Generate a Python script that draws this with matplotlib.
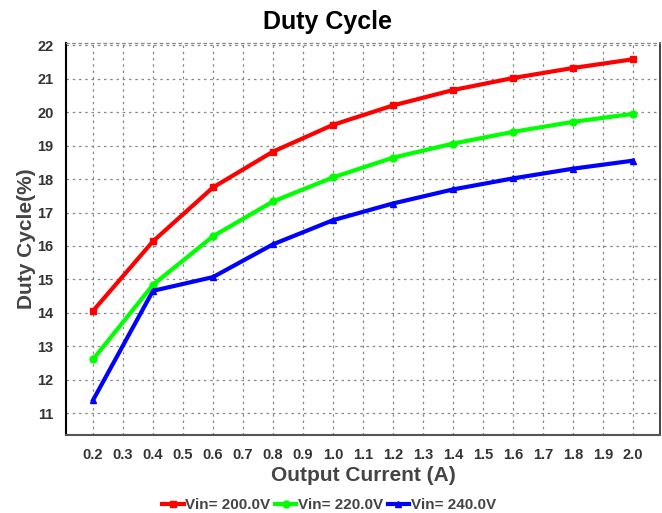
import matplotlib
matplotlib.use('Agg')
import matplotlib.pyplot as plt

plt.rcParams['font.family'] = ['Liberation Sans', 'DejaVu Sans']
plt.rcParams['font.weight'] = 'bold'

# output current (A)
current = [0.2, 0.4, 0.6, 0.8, 1.0, 1.2, 1.4, 1.6, 1.8, 2.0]
# duty cycle (%) for each input voltage
duty_200 = [14.06, 16.14, 17.75, 18.82, 19.62, 20.20, 20.66, 21.02, 21.32, 21.58]
duty_220 = [12.61, 14.84, 16.29, 17.33, 18.05, 18.64, 19.06, 19.41, 19.71, 19.95]
duty_240 = [11.39, 14.66, 15.07, 16.05, 16.77, 17.27, 17.69, 18.02, 18.31, 18.55]
labels = ['Vin= 200.0V', 'Vin= 220.0V', 'Vin= 240.0V']

xticks = [0.2, 0.3, 0.4, 0.5, 0.6, 0.7, 0.8, 0.9, 1.0, 1.1, 1.2, 1.3, 1.4,
          1.5, 1.6, 1.7, 1.8, 1.9, 2.0]
yticks = list(range(11, 23))

fig = plt.figure(figsize=(6.62, 5.13), dpi=100)
ax = fig.add_axes([0.0997, 0.152, 0.897, 0.765])

ax.plot(current, duty_200, color='#ff0000', lw=3, marker='s', ms=5, label=labels[0])
ax.plot(current, duty_220, color='#00ff00', lw=3, marker='o', ms=5, label=labels[1])
ax.plot(current, duty_240, color='#0000ff', lw=3, marker='^', ms=5, label=labels[2])

ax.set_xlim(0.11, 2.09)
ax.set_ylim(10.35, 22.08)
ax.set_xticks(xticks)
ax.set_xticklabels(['%.1f' % v for v in xticks])
ax.set_yticks(yticks)
ax.tick_params(labelsize=10.5, length=0, pad=9, colors='#333333')
for t in ax.get_xticklabels() + ax.get_yticklabels():
    t.set_fontweight('bold')

ax.grid(True, linestyle=(0, (2, 3)), color='#888888', lw=0.9)
ax.set_axisbelow(True)

ax.spines['left'].set_color('black')
ax.spines['left'].set_linewidth(1.5)
ax.spines['bottom'].set_color('#555555')
ax.spines['bottom'].set_linewidth(1.5)
ax.spines['right'].set_color('#222222')
ax.spines['right'].set_linewidth(1.2)
ax.spines['top'].set_color('#888888')
ax.spines['top'].set_linewidth(0.9)
ax.spines['top'].set_linestyle((0, (2, 3)))

fig.text(0.495, 0.958, 'Duty Cycle', fontsize=18, fontweight='bold',
         ha='center', va='center', color='black')
ax.set_xlabel('Output Current (A)', fontsize=15, fontweight='bold', color='#444444')
ax.set_ylabel('Duty Cycle(%)', fontsize=15, fontweight='bold', color='#444444')
ax.xaxis.set_label_coords(0.5, -0.078)
ax.yaxis.set_label_coords(-0.05, 0.5)

fig.legend(loc='lower center', bbox_to_anchor=(0.497, -0.025), ncol=3, frameon=False,
           handlelength=1.4, handletextpad=0.1, columnspacing=0.3,
           prop={'size': 11, 'weight': 'bold'}, labelcolor='#444444')

fig.savefig('out.png', dpi=100)
